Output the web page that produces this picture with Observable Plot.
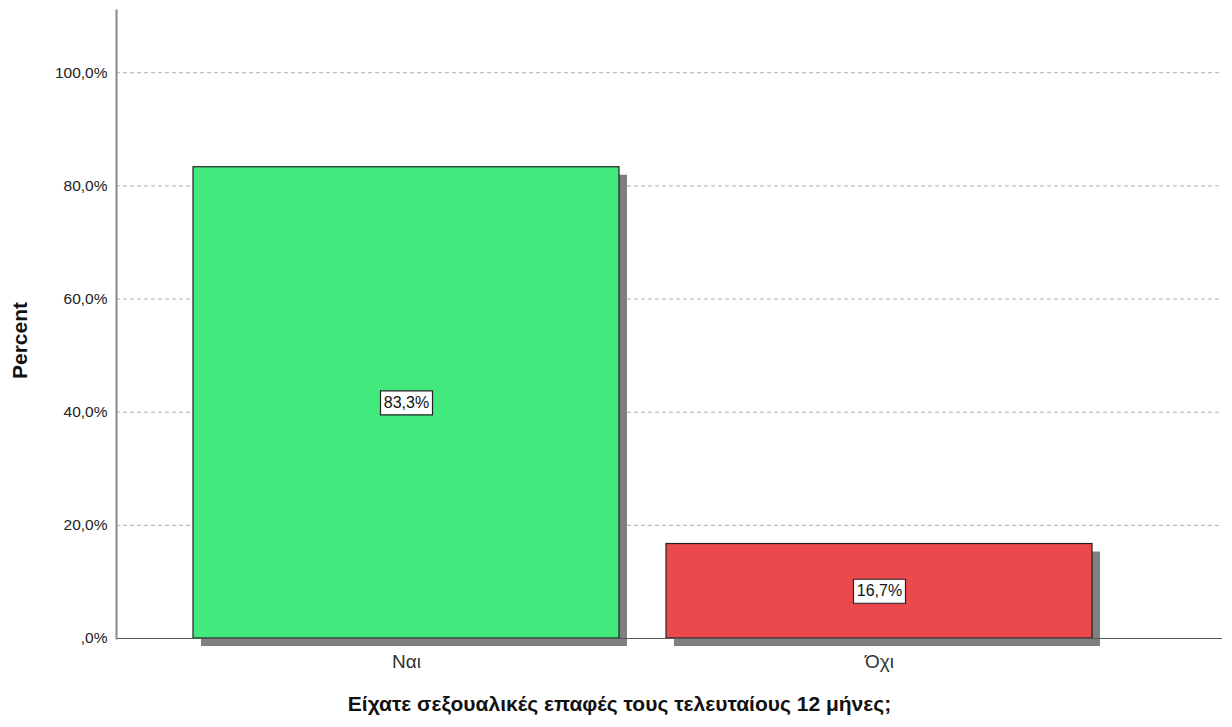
<!DOCTYPE html>
<html><head><meta charset="utf-8">
<script src="https://cdn.jsdelivr.net/npm/d3@7"></script>
<script src="https://cdn.jsdelivr.net/npm/@observablehq/plot@0.6"></script>
<style>body{margin:0;background:#fff;font-family:"Liberation Sans",Arial,sans-serif}</style>
</head><body><div id="chart"></div>
<script>
const categories = ["Ναι", "Όχι"];
const percents = [83.3, 16.7];
const colors = ["#42EA7E", "#EB4A4C"];
const yTicks = [0, 20, 40, 60, 80, 100];
const xTitle = "Είχατε σεξουαλικές επαφές τους τελευταίους 12 μήνες;";
const yTitle = "Percent";

const data = categories.map((c, i) => ({cat: c, pct: percents[i], color: colors[i]}));
const fmt = d => d === 0 ? ",0%" : d.toFixed(1).replace(".", ",") + "%";
const boxSymbol = {draw(ctx) { ctx.rect(-26, -12, 52, 24); }};

const chart = Plot.plot({
  width: 1232, height: 727,
  marginLeft: 116, marginRight: 10, marginTop: 10, marginBottom: 89,
  style: {fontFamily: "'Liberation Sans', Arial, sans-serif", background: "#fff"},
  x: {domain: categories, range: [144.6, 1140], padding: 0.1, label: null},
  y: {domain: [0, 111], label: null},
  marks: [
    Plot.ruleY(yTicks.filter(d => d > 0), {stroke: "#b0b0b0", strokeDasharray: "4,3", strokeWidth: 1}),
    Plot.barY(data, {x: "cat", y: "pct", fill: "#808080", dx: 8, dy: 8}),
    Plot.barY(data, {x: "cat", y: "pct", fill: "color", stroke: "#222", strokeWidth: 1.2}),
    Plot.ruleY([0], {stroke: "#555", strokeWidth: 1}),
    Plot.frame({anchor: "left", stroke: "#888", strokeWidth: 2}),
    Plot.axisY({ticks: yTicks, tickFormat: fmt, tickSize: 0, tickPadding: 9, fontSize: 15.5, label: null, color: "#222"}),
    Plot.axisX({tickSize: 0, tickPadding: 16, fontSize: 19, label: null, color: "#333"}),
    Plot.dot(data, {x: "cat", y: d => d.pct / 2, symbol: boxSymbol, fill: "white", stroke: "#222", strokeWidth: 1.2, r: 10}),
    Plot.text(data, {x: "cat", y: d => d.pct / 2, text: d => d.pct.toFixed(1).replace(".", ",") + "%", fontSize: 16, fill: "#111"}),
    Plot.text([xTitle], {frameAnchor: "bottom", dy: 72, dx: -50, fontSize: 21, fontWeight: "bold", fill: "#111"}),
    Plot.text([yTitle], {frameAnchor: "left", textAnchor: "middle", dx: -96, dy: 16, rotate: -90, fontSize: 21, fontWeight: "bold", fill: "#111"})
  ]
});
document.getElementById("chart").appendChild(chart);
</script></body></html>
